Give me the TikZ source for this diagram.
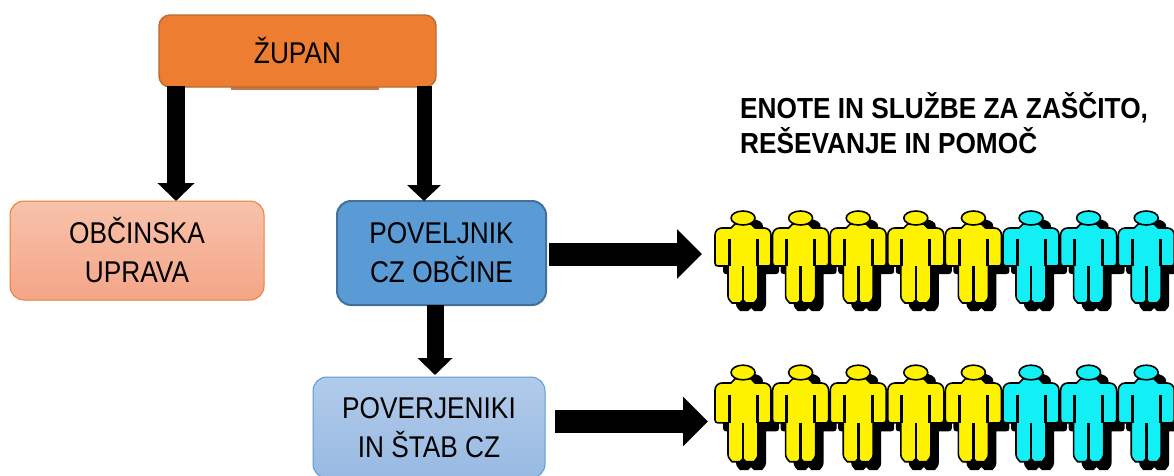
\documentclass[tikz,border=0pt]{standalone}
\usepackage{fontspec}
\setmainfont{Liberation Sans}
\newfontfamily\narrowfont[FakeStretch=0.875]{Liberation Sans}
\newfontfamily\headfont[FakeStretch=0.905,BoldFont={Liberation Sans Bold},BoldFeatures={FakeStretch=0.905}]{Liberation Sans}
\usetikzlibrary{arrows.meta}
\definecolor{orangeA}{HTML}{ED7D31}
\definecolor{orangeB}{HTML}{B96A2E}
\definecolor{orangeC}{HTML}{C27A4A}
\definecolor{peachT}{HTML}{F8C2AB}
\definecolor{peachB}{HTML}{F4A587}
\definecolor{blueA}{HTML}{5B9BD5}
\definecolor{blueB}{HTML}{41719C}
\definecolor{paleT}{HTML}{B1CBEA}
\definecolor{paleB}{HTML}{98BAE2}
\definecolor{figY}{HTML}{FFF200}
\definecolor{figC}{HTML}{12F0F5}
\newcommand{\personbody}{(-8,-4) -- (8,-4) -- (12,0) -- (21,0) .. controls (25,0) and (28,3) .. (28,7) -- (28,35) .. controls (28,37) and (27,38) .. (25,38) -- (15,38) -- (15,68) .. controls (15,72) and (12,73) .. (11,75) -- (3,75) -- (0,72) -- (-3,75) -- (-11,75) .. controls (-12,73) and (-15,72) .. (-15,68) -- (-15,38) -- (-25,38) .. controls (-27,38) and (-28,37) .. (-28,35) -- (-28,7) .. controls (-28,3) and (-25,0) .. (-21,0) -- (-12,0) -- cycle}
\tikzset{
  boxlabel/.style={font=\narrowfont\fontsize{30}{39}\selectfont,align=center,text=black,inner sep=0pt},
  boxbase/.style={boxlabel,rounded corners=14pt,line width=1.4pt},
  fatright/.style={line width=23pt,-{Triangle[length=25pt,width=48pt]}},
  fig outline/.style={line width=1.6pt,draw=black,line join=round},
  pics/person/.style={code={
    \fill[black,shift={(8,8)}] (0,-10) ellipse (12 and 7);
    \fill[black,shift={(8,8)}] \personbody;
    \path[fig outline,fill=#1] \personbody;
    \path[fig outline,fill=#1] (0,-10) ellipse (12 and 7);
    \draw[line width=3pt,black] (-14,11) -- (-14,38);
    \draw[line width=3pt,black] (14,11) -- (14,38);
    \draw[line width=2.6pt,black] (0,38) -- (0,73);
  }}
}
\begin{document}
\begin{tikzpicture}[x=1pt,y=-1pt]
\useasboundingbox (0,0) rectangle (1174,475);
\clip (0,0) rectangle (1174,475);

% people rows
\foreach \row/\ys in {228/1,383/1.05}{
  \foreach \i/\c in {0/figY,1/figY,2/figY,3/figY,4/figY,5/figC,6/figC,7/figC}{
    \path (743+57.6*\i,\row) pic[yscale=\ys] {person=\c};
  }
}

% boxes
\fill[orangeC] (231,86) rectangle (379,89.5);
\node[boxbase,draw=orangeB,fill=orangeA,minimum width=277pt,minimum height=72pt,rounded corners=11pt] (zupan) at (297.5,51) {ŽUPAN};
\node[boxbase,draw=orangeA,line width=1pt,top color=peachT,bottom color=peachB,minimum width=254pt,minimum height=99pt] (uprava) at (137,250.5) {OBČINSKA\\UPRAVA};
\node[boxbase,draw=blueB,line width=2pt,fill=blueA,minimum width=209pt,minimum height=104pt] (poveljnik) at (441.5,253) {POVELJNIK\\CZ OBČINE};
\node[boxbase,draw=blueA,line width=1pt,top color=paleT,bottom color=paleB,minimum width=232pt,minimum height=101pt] (stab) at (429,427.5) {POVERJENIKI\\IN ŠTAB CZ};

% heading
\node[anchor=north west,inner sep=0pt,align=left,font=\headfont\bfseries\fontsize{29}{35}\selectfont] (title) at (740,92) {ENOTE IN SLUŽBE ZA ZAŠČITO,\\REŠEVANJE IN POMOČ};

% free connector ends
\coordinate (a1s) at (176,86);  \coordinate (a1e) at (176,201);
\coordinate (a2s) at (424,86);  \coordinate (a2e) at (424,201);
\coordinate (a3s) at (435,305); \coordinate (a3e) at (435,375);
\coordinate (a4s) at (549,254); \coordinate (a4e) at (702,254);
\coordinate (a5s) at (555,421.5); \coordinate (a5e) at (708,421.5);

% connectors
\draw[line width=18pt,-{Triangle[length=18pt,width=36pt]}] (a1s) -- (a1e);
\draw[line width=15pt,-{Triangle[length=16pt,width=33pt]}] (a2s) -- (a2e);
\draw[line width=17pt,-{Triangle[length=17pt,width=34pt]}] (a3s) -- (a3e);
\draw[fatright] (a4s) -- (a4e);
\draw[fatright] (a5s) -- (a5e);
\end{tikzpicture}
\end{document}
